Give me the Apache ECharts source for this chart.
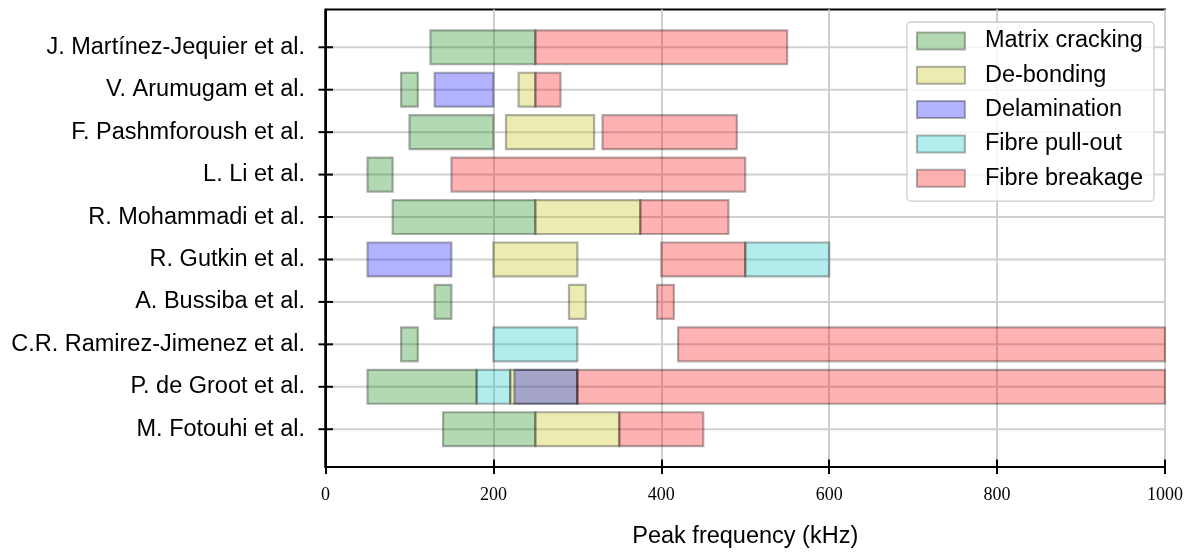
<!DOCTYPE html>
<html>
<head>
<meta charset="utf-8">
<script src="https://cdn.jsdelivr.net/npm/echarts@6/dist/echarts.min.js"></script>
<style>
  html, body { margin: 0; padding: 0; background: #fff; }
  #chart { width: 1191px; height: 554px; }
</style>
</head>
<body>
<div id="chart"></div>
<script>
// Studies, listed top to bottom
const authors = [
  'J. Martínez-Jequier et al.',
  'V. Arumugam et al.',
  'F. Pashmforoush et al.',
  'L. Li et al.',
  'R. Mohammadi et al.',
  'R. Gutkin et al.',
  'A. Bussiba et al.',
  'C.R. Ramirez-Jimenez et al.',
  'P. de Groot et al.',
  'M. Fotouhi et al.'
];

// Peak-frequency ranges per damage mechanism: [study index, from kHz, to kHz]
const matrixCracking = [
  [0, 125, 250], [1, 90, 110], [2, 100, 200], [3, 50, 80], [4, 80, 250],
  [6, 130, 150], [7, 90, 110], [8, 50, 180], [9, 140, 250]
];
const deBonding = [
  [1, 230, 250], [2, 215, 320], [4, 250, 375], [5, 200, 300],
  [6, 290, 310], [8, 220, 300], [9, 250, 350]
];
const delamination = [
  [1, 130, 200], [5, 50, 150], [8, 225, 300]
];
const fibrePullOut = [
  [5, 500, 600], [7, 200, 300], [8, 180, 220]
];
const fibreBreakage = [
  [0, 250, 550], [1, 250, 280], [2, 330, 490], [3, 150, 500], [4, 375, 480],
  [5, 400, 500], [6, 395, 415], [7, 420, 1000], [8, 300, 1000], [9, 350, 450]
];

const mechanismNames = ['Matrix cracking', 'De-bonding', 'Delamination', 'Fibre pull-out', 'Fibre breakage'];
const mechanismData = [matrixCracking, deBonding, delamination, fibrePullOut, fibreBreakage];
const mechanismColors = [
  'rgba(0,128,0,0.3)', 'rgba(191,191,0,0.3)', 'rgba(0,0,255,0.3)',
  'rgba(0,191,191,0.3)', 'rgba(255,0,0,0.3)'
];

const EDGE = 'rgba(0,0,0,0.3)';
const EDGE_WIDTH = 2.2;
const GRID_COLOR = '#d0d0d0';
const SPINE_WIDTH = 2;
const SANS = '"Liberation Sans", Arial, sans-serif';
const TEXT_SIZE = 23.5;
const BAR_HEIGHT = 0.8;
const Y_MIN = -0.89;
const Y_MAX = 9.89;

const chart = echarts.init(document.getElementById('chart'), null, { renderer: 'canvas' });

function renderRange(color) {
  return function (params, api) {
    const row = api.value(0);
    const a = api.coord([api.value(1), row]);
    const b = api.coord([api.value(2), row]);
    const h = api.size([0, BAR_HEIGHT])[1];
    return {
      type: 'rect',
      shape: { x: a[0], y: a[1] - h / 2, width: b[0] - a[0], height: h },
      style: { fill: color, stroke: EDGE, lineWidth: EDGE_WIDTH }
    };
  };
}

// Row guides: horizontal grid line, in/out tick on the left spine, study label
function renderRow(params, api) {
  const row = api.value(0);
  const left = api.coord([api.value(1), row]);
  const right = api.coord([api.value(2), row]);
  const y = left[1];
  return {
    type: 'group',
    children: [
      {
        type: 'line',
        shape: { x1: left[0], y1: y, x2: right[0], y2: y },
        style: { stroke: GRID_COLOR, lineWidth: 2 }
      },
      {
        type: 'line',
        shape: { x1: left[0] - 7, y1: y, x2: left[0] + 7.5, y2: y },
        style: { stroke: '#000', lineWidth: SPINE_WIDTH },
        z2: 10
      },
      {
        type: 'text',
        x: left[0] - 20.5,
        y: y,
        style: {
          text: authors[row],
          font: TEXT_SIZE + 'px ' + SANS,
          fill: '#000',
          align: 'right',
          verticalAlign: 'middle'
        }
      }
    ]
  };
}

const rowData = authors.map((name, i) => [i, 0, 1000]);

const series = [{
  type: 'custom',
  name: 'rows',
  renderItem: renderRow,
  data: rowData,
  encode: { y: 0, x: [1, 2] },
  z: 1,
  silent: true,
  clip: false
}];

mechanismNames.forEach((name, k) => {
  series.push({
    type: 'custom',
    name: name,
    renderItem: renderRange(mechanismColors[k]),
    data: mechanismData[k],
    encode: { y: 0, x: [1, 2] },
    itemStyle: { color: mechanismColors[k], borderColor: EDGE, borderWidth: EDGE_WIDTH },
    z: 2 + k
  });
});

const option = {
  animation: false,
  backgroundColor: '#ffffff',
  grid: {
    left: 325.5, right: 26, top: 9.5, bottom: 85,
    show: true, borderColor: '#000', borderWidth: SPINE_WIDTH, backgroundColor: 'transparent'
  },
  legend: {
    data: mechanismNames,
    orient: 'vertical',
    right: 37,
    top: 22,
    icon: 'rect',
    itemWidth: 48,
    itemHeight: 17,
    itemGap: 10.3,
    padding: [7, 11, 11, 9],
    backgroundColor: 'rgba(255,255,255,0.8)',
    borderColor: '#cccccc',
    borderWidth: 1.3,
    borderRadius: 4,
    textStyle: { fontFamily: SANS, fontSize: TEXT_SIZE, color: '#000', padding: [0, 0, 0, 15] },
    selectedMode: false
  },
  xAxis: [{
    type: 'value',
    min: 0, max: 1000, interval: 200,
    position: 'bottom',
    name: 'Peak frequency (kHz)',
    nameLocation: 'middle',
    nameGap: 58,
    nameTextStyle: { fontFamily: SANS, fontSize: TEXT_SIZE, color: '#000' },
    axisLine: { show: true, onZero: false, lineStyle: { color: '#000', width: SPINE_WIDTH } },
    axisTick: { show: true, length: 7, lineStyle: { color: '#000', width: SPINE_WIDTH } },
    axisLabel: {
      margin: 19,
      fontFamily: '"Liberation Serif", serif',
      fontSize: 18,
      color: '#000',
      formatter: v => String(v)
    },
    splitLine: { show: true, lineStyle: { color: GRID_COLOR, width: 2 } }
  }, {
    type: 'value',
    min: 0, max: 1000, interval: 200,
    position: 'bottom',
    axisLine: { show: false, onZero: false },
    axisTick: { show: true, inside: true, length: 7.5, lineStyle: { color: '#000', width: SPINE_WIDTH } },
    axisLabel: { show: false },
    splitLine: { show: false }
  }],
  yAxis: {
    type: 'value',
    min: Y_MIN,
    max: Y_MAX,
    inverse: true,
    position: 'left',
    axisLine: { show: true, onZero: false, lineStyle: { color: '#000', width: SPINE_WIDTH } },
    axisTick: { show: false },
    axisLabel: { show: false },
    splitLine: { show: false }
  },
  series: series
};

chart.setOption(option);

// Left spine, placed from the axis scales so it sits exactly on the plot edge
const spineStart = chart.convertToPixel({ gridIndex: 0 }, [0, Y_MIN]);
const spineEnd = chart.convertToPixel({ gridIndex: 0 }, [0, Y_MAX]);
chart.setOption({
  graphic: [{
    type: 'line',
    shape: { x1: spineStart[0], y1: spineStart[1], x2: spineEnd[0], y2: spineEnd[1] },
    style: { stroke: '#000', lineWidth: SPINE_WIDTH },
    z: 20,
    silent: true
  }]
});
</script>
</body>
</html>
